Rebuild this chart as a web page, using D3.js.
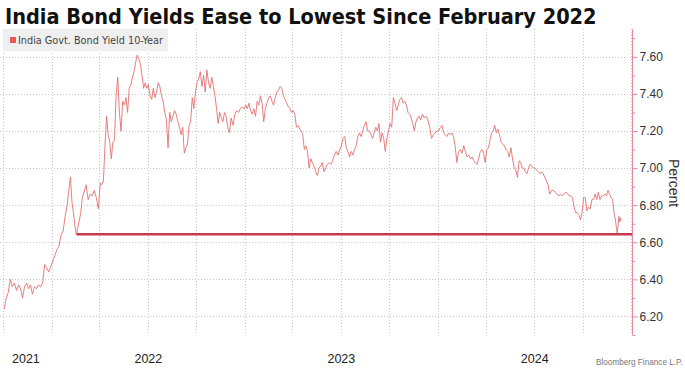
<!DOCTYPE html>
<html><head><meta charset="utf-8">
<script src="https://cdn.jsdelivr.net/npm/d3@7"></script>
<style>body{margin:0;background:#fff;} svg{display:block}</style>
</head><body><svg id="c" width="685" height="368"></svg>
<script>
const title = "India Bond Yields Ease to Lowest Since February 2022";
const seriesName = "India Govt. Bond Yield 10-Year";
const axisTitle = "Percent";
const sourceText = "Bloomberg Finance L.P.";
const months = ["2021-10","2021-11","2021-12","2022-01","2022-02","2022-03","2022-04","2022-05","2022-06","2022-07","2022-08","2022-09","2022-10","2022-11","2022-12","2023-01","2023-02","2023-03","2023-04","2023-05","2023-06","2023-07","2023-08","2023-09","2023-10","2023-11","2023-12","2024-01","2024-02","2024-03","2024-04","2024-05","2024-06","2024-07","2024-08","2024-09","2024-10","2024-11","2024-12"];
const yields = [
 [6.24,6.30,6.33,6.40,6.36,6.38,6.34,6.37],
 [6.35,6.30,6.36,6.38,6.35,6.37,6.32,6.36],
 [6.35,6.37,6.36,6.38,6.48,6.46,6.44,6.47],
 [6.50,6.53,6.56,6.58,6.64,6.66,6.74,6.80],
 [6.89,6.95,6.82,6.76,6.69,6.64,6.68,6.72,6.76,6.84],
 [6.87,6.91,6.83,6.86,6.85,6.88,6.84,6.78],
 [6.92,6.91,6.93,7.12,7.28,7.18,7.14,7.05,7.14,7.15],
 [7.39,7.49,7.30,7.20,7.36,7.34,7.38,7.30,7.43,7.45],
 [7.49,7.52,7.57,7.61,7.59,7.56,7.50,7.43,7.46,7.43],
 [7.45,7.39,7.37,7.43,7.38,7.41,7.46,7.44,7.39,7.36],
 [7.30,7.26,7.11,7.30,7.25,7.28,7.31,7.29,7.25,7.22],
 [7.18,7.22,7.08,7.11,7.13,7.23,7.25,7.38,7.32,7.41],
 [7.46,7.48,7.52,7.44,7.50,7.41,7.53,7.46,7.43,7.49],
 [7.44,7.39,7.32,7.24,7.30,7.27,7.25,7.30,7.28,7.22],
 [7.19,7.27,7.23,7.29,7.31,7.30,7.32,7.33,7.32],
 [7.34,7.32,7.35,7.31,7.29,7.32,7.28,7.36,7.34,7.39],
 [7.35,7.25,7.32,7.35,7.38,7.39,7.36,7.34,7.38],
 [7.41,7.42,7.44,7.43,7.39,7.37,7.35,7.33,7.32,7.30],
 [7.31,7.29,7.22,7.23,7.21,7.20,7.18,7.10,7.12,7.09],
 [7.00,7.05,7.03,7.01,6.98,6.96,7.00,7.01,7.03,6.98],
 [7.00,7.02,7.03,7.02,7.04,7.07,7.09,7.07,7.10],
 [7.12,7.16,7.17,7.11,7.09,7.06,7.09,7.07,7.10,7.12],
 [7.17,7.19,7.17,7.20,7.23,7.25,7.20,7.20,7.18,7.16],
 [7.19,7.22,7.20,7.24,7.14,7.19,7.16,7.09,7.16,7.20],
 [7.24,7.22,7.38,7.35,7.31,7.34,7.37,7.38,7.35,7.36],
 [7.34,7.30,7.29,7.27,7.24,7.20,7.25,7.27,7.28,7.26],
 [7.29,7.27,7.28,7.26,7.22,7.16,7.18,7.19,7.20],
 [7.20,7.22,7.23,7.19,7.18,7.17,7.19,7.18,7.19,7.17],
 [7.12,7.03,7.09,7.10,7.08,7.12,7.09,7.06,7.07],
 [7.05,7.06,7.04,7.03,7.02,7.05,7.09,7.10,7.08,7.03],
 [7.10,7.11,7.15,7.19,7.20,7.23,7.19,7.21,7.18,7.14],
 [7.13,7.12,7.10,7.09,7.06,7.11,7.05,7.00,6.99,6.95],
 [7.04,7.03,7.00,7.00,6.98,6.97,7.00,7.02,7.01,7.00],
 [7.00,6.99,6.98,6.97,6.98,6.97,6.95,6.93,6.91,6.86],
 [6.88,6.88,6.87,6.86,6.85,6.86,6.85,6.86,6.87],
 [6.86,6.85,6.85,6.84,6.79,6.76,6.76,6.75,6.72,6.76],
 [6.84,6.84,6.77,6.79,6.78,6.83,6.83,6.86,6.83,6.87],
 [6.83,6.85,6.85,6.86,6.85,6.88,6.86,6.84,6.83,6.75],
 [6.72,6.68,6.65,6.69,6.74,6.71,6.73,6.72]
];
const lastDate = "2024-12-13";
const lowLevel = 6.643;
const lowStart = "2022-02-17";
const yTicks = [6.20,6.40,6.60,6.80,7.00,7.20,7.40,7.60];
const yMinorTicks = [6.10,6.30,6.50,6.70,6.90,7.10,7.30,7.50,7.70];
const yearLabels = ["2021","2022","2023","2024"];
const xDomain = ["2021-09-25","2025-01-02"];
const yDomain = [6.10, 7.75];

const svg = d3.select("#c");
const pDay = d3.timeParse("%Y-%m-%d"), pMon = d3.timeParse("%Y-%m");
const L = 0, R = 632, T = 29, B = 335;
const x = d3.scaleTime().domain(xDomain.map(pDay)).range([L, R]);
const y = d3.scaleLinear().domain(yDomain).range([B, T]);

// build series
const pts = [];
months.forEach((m, i) => {
  const s = pMon(m);
  const e = i < months.length - 1 ? pMon(months[i + 1]) : d3.timeDay.offset(pDay(lastDate), 1);
  const vals = yields[i];
  vals.forEach((v, j) => {
    pts.push({t: new Date(+s + (j + 0.5) / vals.length * (e - s)), v});
  });
});

// grid
const grid = svg.append("g");
const qTicks = x.ticks(d3.timeMonth.every(3));
grid.selectAll(".vg").data(qTicks).join("line")
  .attr("x1", d => Math.round(x(d)) + 0.5).attr("x2", d => Math.round(x(d)) + 0.5)
  .attr("y1", T).attr("y2", B)
  .attr("stroke", "#c8c8c8").attr("stroke-width", 1).attr("stroke-dasharray", "1,2");
grid.selectAll(".hg").data(yTicks).join("line")
  .attr("x1", L).attr("x2", R)
  .attr("y1", d => Math.round(y(d)) + 0.5).attr("y2", d => Math.round(y(d)) + 0.5)
  .attr("stroke", "#c8c8c8").attr("stroke-width", 1).attr("stroke-dasharray", "1,2");

// series line
svg.append("path").datum(pts)
  .attr("fill", "none").attr("stroke", "#e46f70").attr("stroke-width", 0.9)
  .attr("d", d3.line().x(d => x(d.t)).y(d => y(d.v)));

// low level line
svg.append("line")
  .attr("x1", x(pDay(lowStart))).attr("x2", R)
  .attr("y1", y(lowLevel)).attr("y2", y(lowLevel))
  .attr("stroke", "#c9384f").attr("stroke-width", 2.5);

// right axis
const ax = svg.append("g").attr("transform", `translate(${R + 0.5},0)`)
  .call(d3.axisRight(y).tickValues(yTicks).tickSize(5).tickPadding(2).tickFormat(d3.format(".2f")));
ax.select(".domain").attr("stroke", "#e58a96").attr("d", `M0,${T}V${B}`);
ax.selectAll(".tick line").attr("stroke", "#e58a96");
ax.selectAll("text").attr("fill", "#333").style("font", "12px 'Liberation Sans', Arial, sans-serif");
const axm = svg.append("g").attr("transform", `translate(${R + 0.5},0)`)
  .call(d3.axisRight(y).tickValues(yMinorTicks).tickSize(3).tickFormat(""));
axm.select(".domain").remove();
axm.selectAll(".tick line").attr("stroke", "#e58a96");

svg.append("text").text(axisTitle)
  .attr("transform", `translate(669,${(T + B) / 2 + 1}) rotate(90)`)
  .attr("text-anchor", "middle").attr("fill", "#333")
  .style("font", "14px 'Liberation Sans', Arial, sans-serif");

// year labels
const d0 = x.domain()[0], d1 = x.domain()[1];
svg.selectAll(".yl").data(yearLabels).join("text")
  .attr("x", d => {
    const a = new Date(Math.max(+d0, +pDay(d + "-01-01")));
    const b = new Date(Math.min(+d1, +pDay((+d + 1) + "-01-01")));
    return (x(a) + x(b)) / 2;
  })
  .attr("y", 363).attr("text-anchor", "middle").attr("fill", "#222")
  .style("font", "12.5px 'Liberation Sans', Arial, sans-serif")
  .text(d => d);

// legend
svg.append("rect").attr("x", 3).attr("y", 29).attr("width", 165).attr("height", 22).attr("fill", "#efefef");
svg.append("rect").attr("x", 10).attr("y", 37).attr("width", 6).attr("height", 6).attr("fill", "#e8555a");
const lt = svg.append("text").attr("x", 18).attr("y", 44).attr("fill", "#444")
  .style("font", "11px 'Liberation Sans Narrow', 'DejaVu Sans Condensed', sans-serif").text(seriesName);
const lw = lt.node().getComputedTextLength();
lt.style("font-size", (11 * 145 / lw) + "px");

// title
const tt = svg.append("text").attr("x", 5).attr("y", 24).attr("fill", "#111")
  .style("font", "bold 22px 'Liberation Sans Narrow', 'DejaVu Sans Condensed', sans-serif").text(title);
const tw = tt.node().getComputedTextLength();
tt.style("font-size", (22 * 592 / tw) + "px");

// source (bottom right)
const st = svg.append("text").attr("x", 596).attr("y", 365).attr("fill", "#777")
  .style("font", "10px 'Liberation Sans', Arial, sans-serif").text(sourceText);
const sw = st.node().getComputedTextLength();
if (596 + sw > 683) st.style("font-size", (10 * 87 / sw) + "px");
</script></body></html>
